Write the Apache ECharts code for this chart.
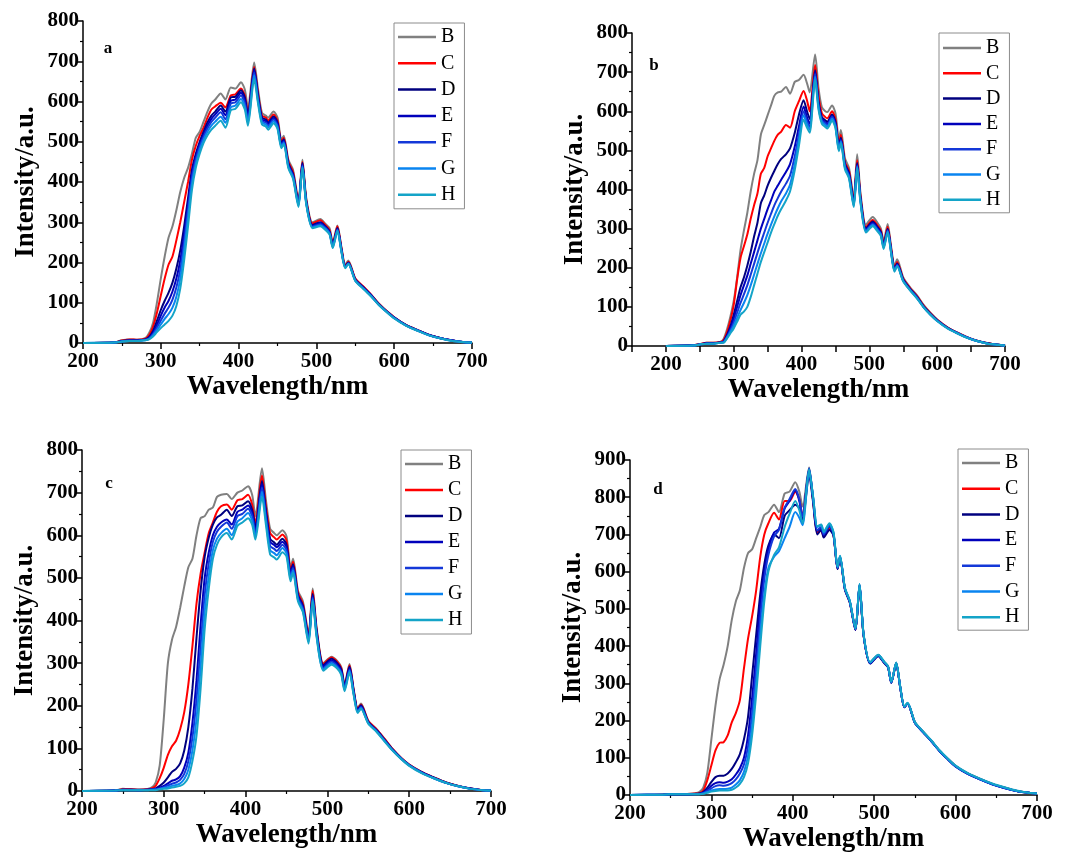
<!DOCTYPE html>
<html><head><meta charset="utf-8">
<script src="https://cdn.jsdelivr.net/npm/echarts@6/dist/echarts.min.js"></script>
<style>html,body{margin:0;padding:0;background:#fff}#c{width:1071px;height:855px}</style>
</head><body><div id="c"></div>
<script>
// Wavelength grid (nm) shared by all panels
const wavelength = [200,240,250,260,270,280,285,290,295,300,305,310,315,320,325,330,335,340,345,350,355,360,365,370,377,383,390,396,403,408,412,420,425,430,435,438,445,450,455,458,464,470,477,482,487,495,505,512,517,521,527,532,537,541,550,560,570,580,590,600,615,630,645,660,675,690,700];
const seriesNames = ['B','C','D','E','F','G','H'];
const seriesColors = ['#808080','#ff0000','#00007f','#0000bb','#1438d8','#0a84f0','#14a4c8'];
const panelLetters = ['a','b','c','d'];
const yMaxes = [800,800,800,900];
const xMins = [200,150,200,200];

// Panel a
const a_B = [0,1,7,9,8,12, 25,50,100,160,215,262,290,330,375,410, 435,470,510,525,550,575,595,605,620,605, 635,632,648,630,585,697,630,572,565,560, 575,560,505,515,455,430,355,455,360,300, 308,295,285,250,292,240,195,205,160,140, 120,98,80,64,45,32,20,12,6,2,1];
const a_C = [0,1,6,9,8,11, 20,40,75,118,160,195,215,255,300,350, 400,455,490,515,535,560,580,588,597,585, 615,618,632,615,570,686,620,565,560,553, 568,552,500,510,450,425,350,450,355,297, 305,292,280,246,290,238,192,202,160,141, 121,98,80,64,45,32,20,12,6,2,1];
const a_D = [0,1,5,7,7,9, 15,30,55,82,105,125,150,185,230,290, 360,430,470,500,525,548,565,575,590,575, 610,612,628,610,565,682,615,560,555,548, 563,548,496,506,446,420,347,447,352,293, 300,289,277,243,286,235,190,200,158,139, 120,97,79,63,45,32,20,12,6,2,1];
const a_E = [0,1,5,6,6,8, 13,25,45,68,88,105,128,160,205,270, 345,420,462,494,518,540,557,568,582,566, 602,605,622,604,560,678,610,556,551,544, 559,544,493,503,443,417,345,444,350,291, 298,287,275,241,284,233,189,199,157,138, 119,96,79,63,44,31,20,12,6,2,1];
const a_F = [0,1,4,6,6,8, 11,22,38,56,73,88,108,138,182,250, 330,410,455,488,512,533,549,560,573,556, 595,598,615,596,553,672,605,552,547,540, 555,540,490,500,440,414,343,441,348,289, 295,285,273,240,282,231,188,198,156,137, 118,96,78,62,44,31,19,11,6,2,1];
const a_G = [0,1,4,5,5,7, 10,19,32,46,60,72,88,115,160,230, 312,395,445,480,505,525,540,550,562,547, 586,590,606,588,547,665,600,548,543,536, 551,536,487,497,437,411,341,438,346,287, 292,283,271,238,280,230,187,197,155,136, 117,95,78,62,44,31,19,11,5,2,1];
const a_H = [0,1,4,5,5,7, 9,16,27,37,46,55,68,92,135,205, 290,380,435,470,497,516,530,540,552,535, 578,582,598,580,540,656,595,543,538,530, 546,532,484,494,434,408,338,435,344,285, 290,280,269,236,278,228,186,196,154,135, 116,95,77,61,43,30,19,11,5,2,1];

// Panel b
const b_B = [0,2,5,8,8,10, 18,42,75,115,175,245,295,340,395,440, 475,540,565,590,615,640,648,650,662,645, 675,680,693,672,648,745,660,610,600,598, 615,595,530,552,480,455,380,490,390,310, 330,315,300,268,312,255,205,222,175,150, 130,105,85,68,48,34,22,13,7,3,1];
const b_C = [0,2,5,8,8,10, 15,35,65,105,170,225,255,285,325,360, 390,440,455,485,505,525,540,548,565,558, 600,625,652,628,600,718,640,595,585,582, 600,580,520,540,470,448,372,475,382,304, 322,308,295,262,305,250,200,215,172,148, 128,103,84,67,48,34,22,13,7,3,1];
const b_D = [0,2,4,7,7,9, 12,28,50,80,115,150,175,205,240,280, 315,365,385,410,430,448,465,478,490,505, 545,590,628,600,580,705,625,585,577,573, 592,573,512,532,465,442,367,468,377,300, 318,304,291,258,300,246,197,211,170,146, 126,101,82,66,47,33,21,13,7,3,1];
const b_E = [0,2,4,7,7,9, 11,25,45,70,100,130,155,180,210,240, 270,300,325,350,372,395,410,425,445,465, 510,560,612,585,568,700,620,580,572,568, 588,568,508,528,462,438,364,464,374,297, 315,301,288,255,297,244,195,209,168,145, 125,100,81,65,46,33,21,12,6,3,1];
const b_F = [0,1,4,6,6,8, 10,23,40,60,85,110,132,155,182,210, 238,265,290,315,338,360,378,395,415,435, 485,540,600,575,560,695,615,577,569,565, 585,565,505,525,459,435,361,461,371,295, 312,298,286,253,295,242,194,207,167,144, 124,100,81,65,46,33,21,12,6,3,1];
const b_G = [0,1,4,6,6,8, 9,21,36,52,72,92,110,130,155,182, 210,237,262,287,310,332,352,370,390,412, 465,525,590,567,553,688,610,573,565,561, 581,561,502,522,456,432,358,458,368,293, 309,296,284,251,293,240,192,205,166,143, 123,99,80,64,46,32,21,12,6,3,1];
const b_H = [0,1,4,6,6,8, 8,19,32,45,62,80,88,100,125,155, 185,215,240,265,290,312,333,350,372,395, 450,510,578,558,545,680,605,568,560,556, 576,557,498,518,452,428,355,454,365,290, 306,293,281,248,290,238,190,203,165,142, 122,99,80,64,45,32,20,12,6,3,1];

// Panel c
const c_B = [0,1,5,4,3,5, 8,20,60,170,300,355,385,430,480,525, 545,600,640,645,660,665,690,695,697,685, 700,705,715,695,645,757,680,615,605,600, 612,598,525,545,470,445,370,475,380,300, 315,305,290,250,298,240,195,205,165,145, 122,98,78,62,45,32,20,12,6,2,1];
const c_C = [0,1,4,4,3,4, 6,12,30,55,85,105,118,145,185,250, 340,440,510,560,605,630,655,668,672,660, 682,685,695,672,630,740,665,605,595,590, 602,588,518,538,465,440,365,470,376,298, 313,303,288,248,295,238,193,203,164,145, 122,98,78,62,45,32,20,12,6,2,1];
const c_D = [0,1,3,3,3,3, 4,6,12,20,32,45,52,65,95,150, 240,360,470,550,595,625,642,648,660,645, 668,670,680,660,620,727,655,592,583,578, 592,578,512,532,460,435,360,462,372,295, 310,300,285,246,292,236,191,201,162,143, 120,97,77,61,44,31,20,12,6,2,1];
const c_E = [0,1,3,3,2,3, 4,5,8,12,18,24,27,35,55,90, 160,260,390,500,560,600,620,630,637,625, 655,660,670,652,612,720,648,585,577,572, 585,572,508,528,457,432,357,458,369,292, 307,297,282,243,289,234,189,199,161,142, 119,96,77,61,44,31,19,11,6,2,1];
const c_F = [0,1,3,2,2,3, 3,4,6,9,13,17,20,26,40,70, 125,215,340,460,535,585,608,620,630,615, 645,650,662,645,605,712,640,575,568,563, 578,565,503,523,453,428,353,454,365,288, 303,293,278,240,285,231,187,197,160,141, 118,95,76,60,43,30,19,11,5,2,1];
const c_G = [0,1,2,2,2,2, 3,3,5,7,9,12,14,18,28,50, 95,170,290,420,505,565,592,605,615,600, 632,640,652,635,598,702,632,565,558,553, 570,558,498,518,449,424,350,450,362,285, 300,290,275,237,282,229,185,195,159,140, 117,95,76,60,43,30,19,11,5,2,1];
const c_H = [0,1,2,2,2,2, 2,2,4,5,6,8,10,12,18,32, 70,130,240,380,475,545,578,595,605,590, 622,630,640,625,590,690,622,555,548,543, 560,550,492,512,445,420,346,445,358,282, 296,287,272,234,278,226,183,193,158,139, 116,94,75,59,42,30,19,11,5,2,1];

// Panel d
const d_B = [0,1,3,3,3,5, 8,20,60,150,240,310,350,400,470,520, 550,610,650,660,690,720,752,760,780,760, 810,815,840,815,775,880,790,705,715,695, 720,700,610,640,555,520,445,565,430,355, 376,358,345,303,355,290,237,247,195,170, 146,120,98,78,58,43,30,20,11,6,4];
const d_C = [0,1,3,3,3,4, 5,12,40,80,120,140,142,160,195,220, 255,340,420,480,550,640,700,730,758,740, 790,790,815,795,750,870,790,705,710,695, 715,698,608,638,553,518,444,563,428,354, 374,356,344,302,354,289,236,246,195,170, 146,120,98,78,58,43,30,20,11,6,4];
const d_D = [0,1,2,2,2,3, 4,8,20,35,48,52,52,58,70,88, 110,150,210,320,430,540,620,670,700,690, 750,765,780,770,740,860,785,700,712,692, 712,697,607,637,552,517,443,562,428,353, 373,355,343,301,353,288,236,246,194,169, 145,119,97,77,57,42,29,19,11,6,4];
const d_E = [0,1,2,2,2,3, 3,6,14,25,32,34,33,36,42,55, 72,100,160,260,380,510,600,660,705,715, 770,790,818,790,745,875,795,710,718,698, 722,700,609,639,554,519,444,564,429,354, 375,357,344,302,354,289,236,246,194,169, 145,119,97,77,57,42,29,19,11,6,4];
const d_F = [0,1,2,2,2,2, 3,5,11,18,24,26,25,27,32,42, 58,82,130,220,340,470,580,645,695,712, 772,795,822,795,748,878,797,712,720,700, 724,702,610,640,555,520,445,565,430,355, 375,357,344,302,354,289,236,246,194,169, 145,119,97,77,57,42,29,19,11,6,4];
const d_G = [0,1,2,2,2,2, 2,4,8,12,15,16,16,17,20,28, 40,62,105,185,300,430,540,610,640,655, 690,720,760,745,725,868,800,720,725,705, 728,705,612,642,556,521,446,566,431,356, 376,358,345,303,355,290,237,247,195,170, 146,120,98,78,58,43,30,20,11,6,4];
const d_H = [0,1,2,2,2,2, 2,3,6,9,11,12,12,12,14,20, 30,48,85,160,270,400,520,600,645,665, 720,755,790,765,730,875,800,722,727,708, 730,706,613,643,557,522,447,567,432,357, 377,359,346,304,356,291,238,248,196,171, 147,121,99,79,59,44,31,21,12,6,4];

const panelData = [
  [a_B,a_C,a_D,a_E,a_F,a_G,a_H],
  [b_B,b_C,b_D,b_E,b_F,b_G,b_H],
  [c_B,c_C,c_D,c_E,c_F,c_G,c_H],
  [d_B,d_C,d_D,d_E,d_F,d_G,d_H]
];

// Layout
const grids = [
  {left:83, top:21, width:389, height:322},
  {left:632, top:33, width:373, height:313},
  {left:82, top:450, width:409, height:341},
  {left:630, top:460, width:407, height:335}
];
const legendPos = [
  {left:394, top:23, gap:6.3, pad:[4,9,4,4]},
  {left:939, top:33, gap:5.3, pad:[5,9,3,4]},
  {left:401, top:450, gap:6, pad:[4,9,4,4]},
  {left:958, top:449, gap:5.7, pad:[4,9,3,4]}
];
const letterPos = [[108,49],[654,66],[109,484],[658,490]];

const serif = '"Liberation Serif","Times New Roman",serif';
const axisLineStyle = {color:'#000', width:1.5};

const xAxes = [], yAxes = [], series = [], legends = [], graphics = [];
for (let p = 0; p < 4; p++) {
  const isB = p === 1;
  xAxes.push({
    gridIndex:p, type:'value', min:xMins[p], max:700, interval: isB ? 50 : 100,
    axisLine:{show:true, onZero:false, lineStyle:axisLineStyle},
    axisTick:{show:true, inside:false, length:6, lineStyle:{color:'#000', width:1.5}},
    minorTick:{show:!isB, splitNumber:2, length:3, lineStyle:{color:'#000', width:1.2}},
    splitLine:{show:false},
    axisLabel:{color:'#000', fontFamily:serif, fontWeight:'bold', fontSize:21, margin:8,
      formatter: v => (v % 100 === 0 ? String(v) : '')},
    name:'Wavelength/nm', nameLocation:'middle', nameGap:31,
    nameTextStyle:{color:'#000', fontFamily:serif, fontWeight:'bold', fontSize:27}
  });
  yAxes.push({
    gridIndex:p, type:'value', min:0, max:yMaxes[p], interval:100,
    axisLine:{show:true, onZero:false, lineStyle:axisLineStyle},
    axisTick:{show:true, inside:false, length:6, lineStyle:{color:'#000', width:1.5}},
    minorTick:{show:true, splitNumber:2, length:3, lineStyle:{color:'#000', width:1.2}},
    splitLine:{show:false},
    axisLabel:{color:'#000', fontFamily:serif, fontWeight:'bold', fontSize:21, margin:4},
    name:'Intensity/a.u.', nameLocation:'middle', nameGap:43,
    nameTextStyle:{color:'#000', fontFamily:serif, fontWeight:'bold', fontSize:27}
  });
  for (let s = 0; s < 7; s++) {
    const vals = panelData[p][s];
    series.push({
      type:'line', name:seriesNames[s], xAxisIndex:p, yAxisIndex:p,
      data: wavelength.map((w,i) => [w, vals[i]]),
      symbol:'none', smooth:0.25,
      lineStyle:{color:seriesColors[s], width:2},
      itemStyle:{color:seriesColors[s]},
      animation:false
    });
  }
  const lp = legendPos[p];
  legends.push({
    orient:'vertical', left:lp.left, top:lp.top,
    data:seriesNames.map(n => ({name:n, icon:'rect'})),
    itemWidth:38, itemHeight:2.5, itemGap:lp.gap,
    padding:lp.pad,
    borderColor:'#8c8c8c', borderWidth:1,
    selectedMode:false,
    textStyle:{color:'#000', fontFamily:serif, fontSize:20, lineHeight:14}
  });
  graphics.push({
    type:'text', x:letterPos[p][0], y:letterPos[p][1],
    style:{text:panelLetters[p], fill:'#000', font:'bold 17px ' + serif, textAlign:'center', textVerticalAlign:'middle'}
  });
}

const chart = echarts.init(document.getElementById('c'), null, {renderer:'canvas'});
chart.setOption({
  animation:false,
  backgroundColor:'#fff',
  grid: grids,
  xAxis: xAxes,
  yAxis: yAxes,
  legend: legends,
  series: series,
  graphic: graphics
});
</script>
</body></html>
